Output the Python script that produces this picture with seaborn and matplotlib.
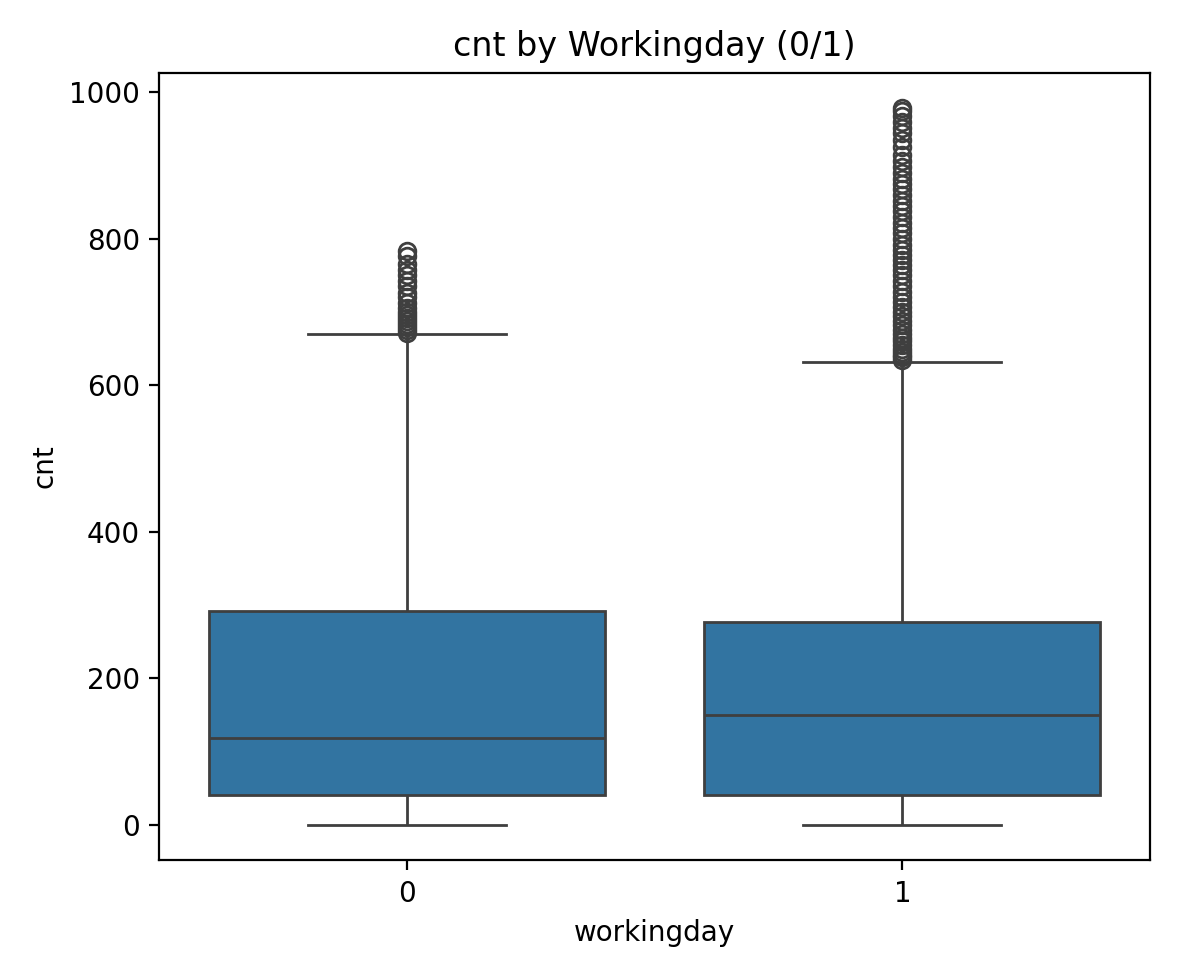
import matplotlib
matplotlib.use('Agg')
import matplotlib.pyplot as plt
import seaborn as sns
import pandas as pd

# box summary: whisker low, q1, median, q3, whisker high
groups = ['0', '1']
whisker_low = [0, 0]
q1 = [40, 40]
median = [118, 150]
q3 = [292, 277]
whisker_high = [670, 632]
outliers = [
    [672, 676, 680, 684, 688, 692, 696, 700, 706, 712, 720, 726, 735, 742, 750, 758, 765, 776, 783],
    [634, 638, 642, 646, 650, 655, 660, 665, 670, 676, 682, 688, 694, 700, 707, 714, 721, 728, 735,
     742, 750, 757, 764, 771, 778, 785, 792, 800, 808, 815, 822, 830, 838, 845, 852, 860, 868, 875,
     882, 890, 898, 906, 915, 925, 935, 945, 952, 960, 968, 975, 978],
]

# rebuild a sample whose quartiles reproduce the summary above
rows = []
for i, g in enumerate(groups):
    vals = ([whisker_low[i]] * 100 + [q1[i]] * 300 + [median[i]] * 200 +
            [q3[i]] * 300 + [whisker_high[i]] + outliers[i])
    rows += [(g, v) for v in vals]
df = pd.DataFrame(rows, columns=['workingday', 'cnt'])

fig, ax = plt.subplots(figsize=(5.9, 4.885), dpi=200)
sns.boxplot(data=df, x='workingday', y='cnt', ax=ax, color='#1f77b4')
ax.set_title('cnt by Workingday (0/1)')
plt.tight_layout()
plt.savefig('out.png', dpi=200)
